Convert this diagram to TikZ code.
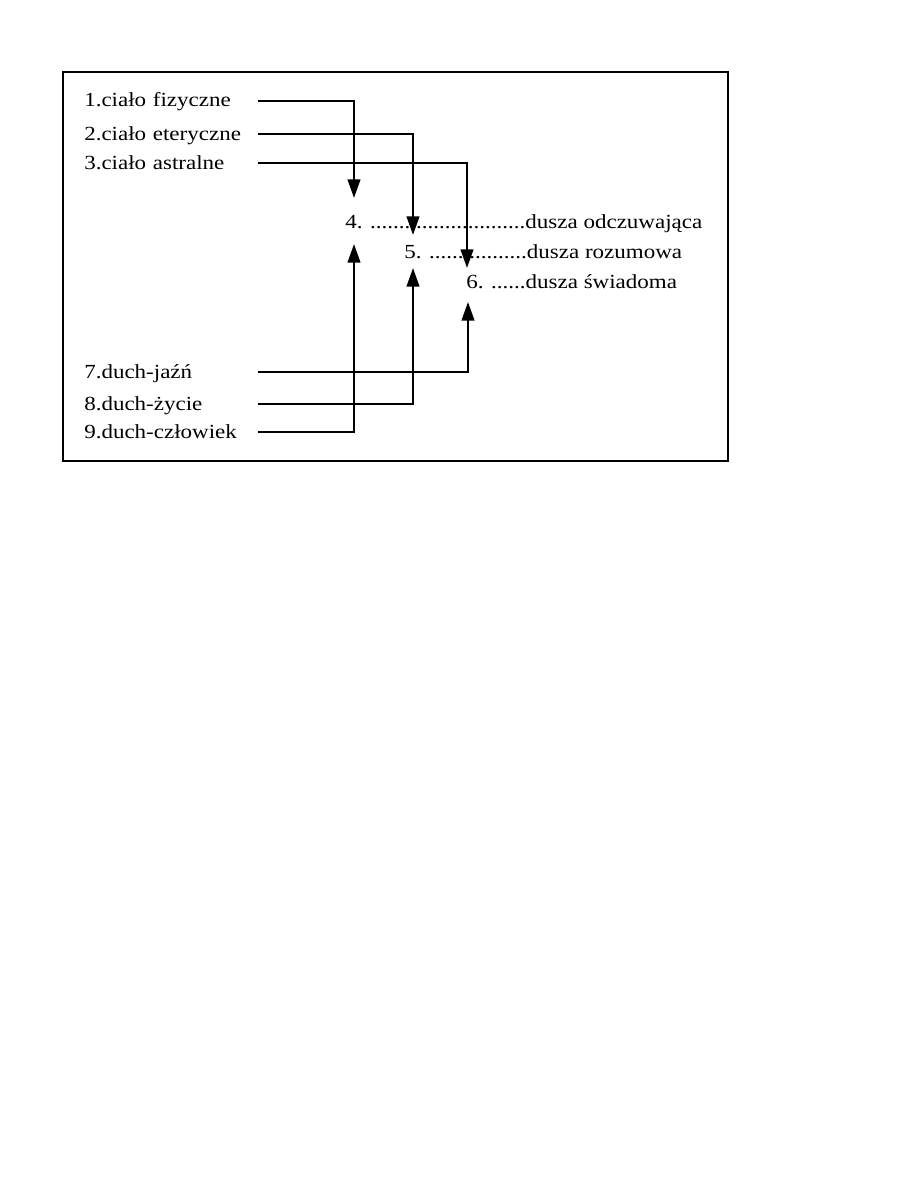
\documentclass[tikz,border=0pt]{standalone}
\usepackage{fontspec}
\setmainfont{Liberation Serif}[FakeStretch=1.15]
\usetikzlibrary{arrows.meta}
\begin{document}
\begin{tikzpicture}[>={Triangle[length=14pt, width=9.5pt]}, x=0.75pt, y=-0.75pt,
    lab/.style={anchor=west, font=\fontsize{15}{18}\selectfont, inner sep=0pt, text width=129.75pt, align=left, text height=11pt, text depth=2pt},
    dsz/.style={anchor=base west, font=\fontsize{15}{18}\selectfont, inner sep=0pt},
    link/.style={->, line width=1.6pt}]
    \useasboundingbox (0,0) rectangle (918,1188);
    \draw[line width=0.8pt] (63,72) rectangle (728,461);
    % bodies
    \node[lab] (l1) at (84,101) {1.ciało fizyczne};
    \node[lab] (l2) at (84,134) {2.ciało eteryczne};
    \node[lab] (l3) at (84,163) {3.ciało astralne};
    % souls
    \node[dsz] (d4) at (345,228) {4. ...........................dusza odczuwająca};
    \node[dsz] (d5) at (404,258) {5. .................dusza rozumowa};
    \node[dsz] (d6) at (466,288) {6. ......dusza świadoma};
    % spirits
    \node[lab] (l7) at (84,372) {7.duch-jaźń};
    \node[lab] (l8) at (84,404) {8.duch-życie};
    \node[lab] (l9) at (84,432) {9.duch-człowiek};
    % arrow tips
    \coordinate (a4) at (354,198);
    \coordinate (a5) at (413,235);
    \coordinate (a6) at (467,268);
    \coordinate (b4) at (354,244);
    \coordinate (b5) at (413,268);
    \coordinate (b6) at (468,302);
    % links
    \foreach \a/\b in {l1/a4, l2/a5, l3/a6, l9/b4, l8/b5, l7/b6} \draw[link] (\a.east) -| (\b);
\end{tikzpicture}
\end{document}
